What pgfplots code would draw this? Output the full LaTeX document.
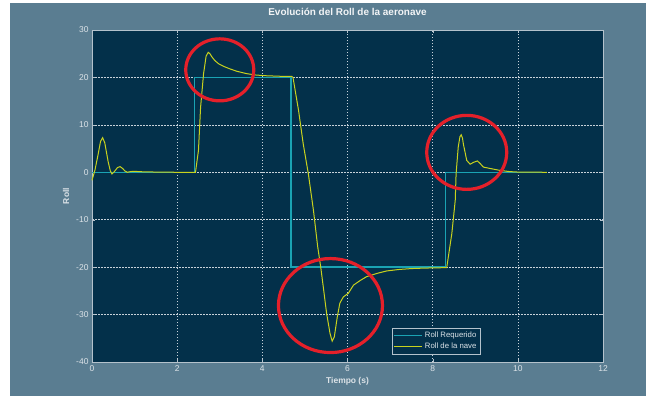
\documentclass[border=0pt]{standalone}
\usepackage{pgfplots}
\pgfplotsset{compat=1.18}
\usepackage{fontspec}
\setmainfont{Liberation Sans}
\definecolor{framebg}{HTML}{5A7D91}
\definecolor{axisbg}{HTML}{03304A}
\definecolor{axisline}{HTML}{B4C2CC}
\definecolor{gridc}{HTML}{C8D2DA}
\definecolor{tickc}{HTML}{DCE3E8}
\definecolor{titlec}{HTML}{F2F4F6}
\definecolor{cyanc}{HTML}{1AA3B3}
\definecolor{yellowc}{HTML}{C8D21E}
\definecolor{redc}{HTML}{E4202A}
\begin{document}
\begin{tikzpicture}[x=1bp,y=1bp]
\fill[white] (0,0) rectangle (646,396);
\fill[framebg] (10,0) rectangle (646,393);
\begin{axis}[
  at={(92bp,34bp)}, anchor=south west,
  scale only axis, width=511bp, height=332bp,
  xmin=0, xmax=12, ymin=-40, ymax=30,
  xtick={0,2,...,12}, ytick={-40,-30,...,30},
  axis background/.style={fill=axisbg},
  axis line style={draw=axisline, line width=0.8bp},
  grid=major,
  major grid style={draw=gridc, dash pattern=on 1.5bp off 1.5bp, line width=0.6bp},
  tick style={draw=axisline},
  major tick length=3bp,
  tick align=inside,
  ticklabel style={font=\fontsize{8.5}{9}\selectfont, text=tickc},
  /pgf/number format/assume math mode=true,
  xlabel={Tiempo (s)}, ylabel={Roll},
  xlabel style={at={(axis description cs:0.5,-0.0572)}, anchor=center, font=\bfseries\fontsize{8.5}{9}\selectfont, text=tickc},
  ylabel style={at={(axis description cs:-0.0509,0.5)}, anchor=center, font=\bfseries\fontsize{8.5}{9}\selectfont, text=tickc},
  title={Evolución del Roll de la aeronave},
  title style={at={(axis description cs:0.5,1.0361)}, anchor=center, font=\bfseries\fontsize{10}{11}\selectfont, text=titlec},
  legend style={at={(0.587,0.024)}, anchor=south west, fill=axisbg, draw=axisline, text=tickc, font=\fontsize{7.8}{9}\selectfont, legend cell align=left, inner sep=1.5bp},
  legend image code/.code={\draw[#1] (0bp,0bp) -- (28bp,0bp);},
  clip=false,
]
\addplot[cyanc, line width=1.3bp] coordinates {
(0,0) (2.40,0) (2.40,20) (4.67,20) (4.67,-20) (8.30,-20) (8.30,0) (10.6,0)
};
\addlegendentry{Roll Requerido}
\addplot[yellowc, line width=1bp] coordinates {
(0,-1.7) (0.07,0.5) (0.14,3.6) (0.2,6.5) (0.25,7.3) (0.3,6.2) (0.38,2.2) (0.43,0.3) (0.47,-0.35) (0.52,0.1) (0.6,1.0) (0.66,1.2) (0.72,0.8) (0.77,0.3) (0.83,0.0) (0.9,0.15) (1.0,0.2) (1.2,0.1) (1.5,0.05) (2.0,0) (2.43,0)
(2.50,4.6) (2.55,13.7) (2.62,20.8) (2.68,24.5) (2.73,25.3) (2.77,25.0) (2.81,24.4) (2.88,23.6) (2.97,22.9) (3.1,22.3) (3.24,21.8) (3.4,21.3) (3.63,20.8) (3.85,20.5) (4.10,20.35) (4.4,20.25) (4.69,20.2)
(4.72,20.0) (4.85,13.05) (4.96,6.0) (5.08,-0.3) (5.20,-8.0) (5.30,-15.7) (5.37,-19.9) (5.43,-24.1) (5.51,-29.8) (5.59,-34.0) (5.64,-35.6) (5.69,-34.7) (5.76,-30.5) (5.82,-27.6) (5.90,-26.3) (6.02,-25.5) (6.14,-23.8) (6.3,-22.8) (6.45,-22.0) (6.7,-21.3) (6.92,-20.8) (7.2,-20.5) (7.5,-20.3) (7.8,-20.2) (8.33,-20.1)
(8.45,-12.9) (8.53,-5.9) (8.55,-0.3) (8.60,5.3) (8.64,7.5) (8.67,7.9) (8.70,7.2) (8.72,6.0) (8.80,2.5) (8.88,1.7) (8.96,2.1) (9.05,2.4) (9.12,1.8) (9.19,1.1) (9.35,0.8) (9.58,0.4) (9.8,0.15) (10.0,0.05) (10.68,0)
};
\addlegendentry{Roll de la nave}
\draw[redc, line width=3.2bp] (axis cs:3.0,21.6) ellipse [x radius=34bp, y radius=31bp];
\draw[redc, line width=3.2bp] (axis cs:5.60,-28.1) ellipse [x radius=52bp, y radius=47bp];
\draw[redc, line width=3.2bp] (axis cs:8.80,4.2) ellipse [x radius=40bp, y radius=37bp];
\end{axis}
\end{tikzpicture}
\end{document}
